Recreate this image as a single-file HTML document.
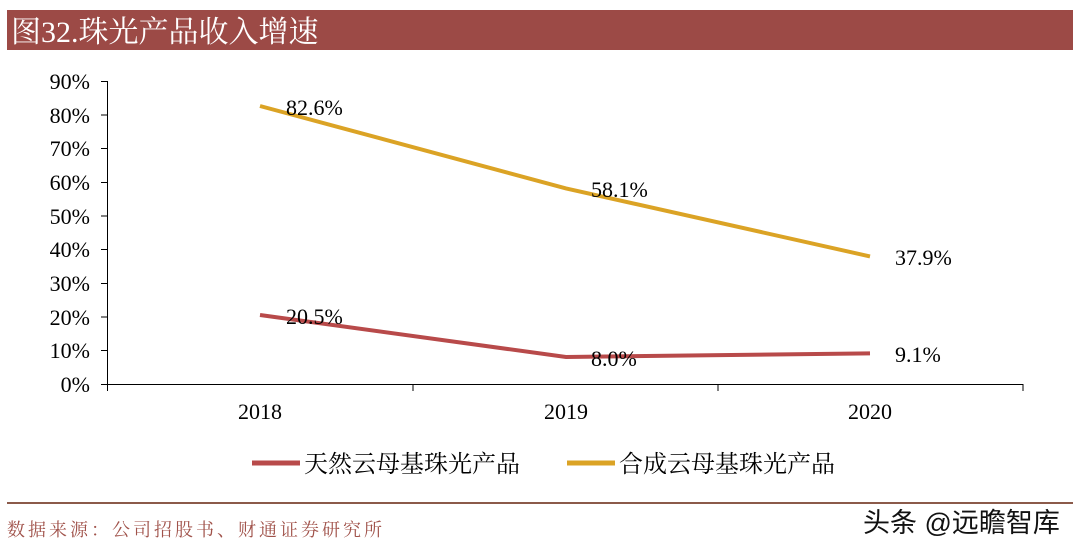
<!DOCTYPE html>
<html><head><meta charset="utf-8"><style>
body{margin:0;width:1080px;height:547px;background:#fff;overflow:hidden}
</style></head><body>
<svg width="1080" height="547" xmlns="http://www.w3.org/2000/svg" style="position:absolute;left:0;top:0">
<rect x="7" y="10" width="1066" height="40" fill="#9c4a46"/>
<text x="11" y="42" font-family="Liberation Serif, Noto Serif CJK SC, serif" font-size="30" fill="#fff">图32.珠光产品收入增速</text>
<g font-family="Liberation Serif, serif" font-size="22" fill="#000" text-anchor="end">
<text x="90" y="392">0%</text><text x="90" y="358">10%</text><text x="90" y="325">20%</text><text x="90" y="291">30%</text><text x="90" y="257">40%</text><text x="90" y="224">50%</text><text x="90" y="190">60%</text><text x="90" y="156">70%</text><text x="90" y="123">80%</text><text x="90" y="89">90%</text>
</g>
<g stroke="#000" stroke-width="1" fill="none">
<path d="M107.5 81V384.5M101 81.5H107.5M101 115H107.5M101 148.5H107.5M101 182.5H107.5M101 216H107.5M101 249.5H107.5M101 283.5H107.5M101 317H107.5M101 350.5H107.5"/>
<path d="M101 384.5H1023M107.5 384V391M413 384V391M718 384V391M1023 384V391"/>
</g>
<g font-family="Liberation Serif, serif" font-size="22" fill="#000" text-anchor="middle">
<text x="260" y="419">2018</text><text x="566" y="419">2019</text><text x="870" y="419">2020</text>
</g>
<polyline points="260,106 566,188.4 870,256.4" fill="none" stroke="#dba325" stroke-width="4"/>
<polyline points="260,315 566,357 870,353.4" fill="none" stroke="#b84a4a" stroke-width="4"/>
<g font-family="Liberation Serif, serif" font-size="22" fill="#000">
<text x="286" y="115">82.6%</text><text x="591" y="197">58.1%</text><text x="895" y="265">37.9%</text>
<text x="286" y="324">20.5%</text><text x="591" y="366">8.0%</text><text x="895" y="362">9.1%</text>
</g>
<line x1="252" y1="463" x2="300" y2="463" stroke="#b84a4a" stroke-width="5"/>
<line x1="567" y1="463" x2="615" y2="463" stroke="#dba325" stroke-width="5"/>
<g font-family="Liberation Serif, Noto Serif CJK SC, serif" font-size="24" fill="#000">
<text x="304" y="472">天然云母基珠光产品</text><text x="619" y="472">合成云母基珠光产品</text>
</g>
<line x1="7" y1="503" x2="1073" y2="503" stroke="#8b5a4a" stroke-width="2"/>
<text x="7" y="536" font-family="Liberation Serif, Noto Serif CJK SC, serif" font-size="18" letter-spacing="3" fill="#a0524a">数据来源：公司招股书、财通证券研究所</text>
<text x="863" y="532" font-family="Liberation Sans, Noto Sans CJK SC, sans-serif" font-size="27" fill="#111">头条 @远瞻智库</text>
</svg>
</body></html>
